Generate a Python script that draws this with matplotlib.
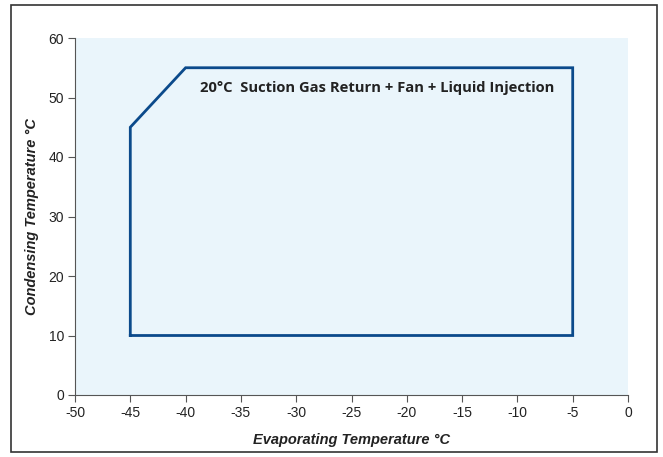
import matplotlib
matplotlib.use("Agg")
import matplotlib.pyplot as plt
from matplotlib.patches import Rectangle

# Data
evap = [-45, -45, -40, -5, -5, -45]
cond = [10, 45, 55, 55, 10, 10]
xticks = list(range(-50, 1, 5))
yticks = list(range(0, 61, 10))
label_text = "20\u00b0C  Suction Gas Return + Fan + Liquid Injection"

fig = plt.figure(figsize=(6.63, 4.57), dpi=100)
ax = fig.add_axes([75/663, 62/457, 553/663, 357/457])
ax.set_facecolor("#EAF5FB")

ax.plot(evap, cond, color="#0B4A8B", linewidth=2.0, solid_joinstyle="miter")

ax.set_xlim(-50, 0)
ax.set_ylim(0, 60)
ax.set_xticks(xticks)
ax.set_yticks(yticks)
ax.set_xticklabels([str(v) for v in xticks])
ax.set_yticklabels([str(v) for v in yticks])

for s in ["top", "right"]:
    ax.spines[s].set_visible(False)
for s in ["left", "bottom"]:
    ax.spines[s].set_color("#555555")
    ax.spines[s].set_linewidth(0.8)
ax.tick_params(direction="out", length=5, width=0.8, color="#555555",
               labelsize=10, labelcolor="#222222", pad=3)
for t in ax.get_xticklabels() + ax.get_yticklabels():
    t.set_family(["Liberation Sans", "DejaVu Sans"])

lab_font = dict(family=["Liberation Sans Narrow", "Liberation Sans", "DejaVu Sans"],
                style="italic", weight="bold", size=10.5, color="#222222")
ax.set_xlabel("Evaporating Temperature \u00b0C", labelpad=9, **lab_font)
ax.set_ylabel("Condensing Temperature \u00b0C", labelpad=7, **lab_font)

ax.text(-38.7, 51.6, label_text, ha="left", va="center",
        family=["Open Sans", "DejaVu Sans"], weight="bold", size=10.6,
        color="#222222")

fig.patches.append(Rectangle((11/663, 5/457), 646/663, 447/457,
                             transform=fig.transFigure, fill=False,
                             edgecolor="#333333", linewidth=1.2))

fig.savefig("out.png", dpi=100)
